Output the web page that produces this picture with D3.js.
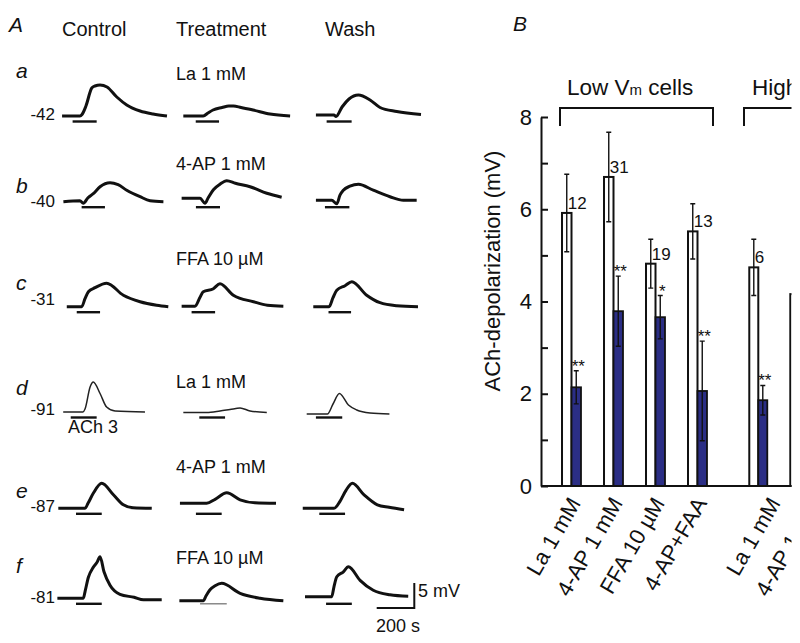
<!DOCTYPE html>
<html><head><meta charset="utf-8">
<script src="https://cdn.jsdelivr.net/npm/d3@7"></script>
<style>
html,body{margin:0;padding:0;background:#fff;}
svg{display:block;}
text{font-family:"Liberation Sans",Arial,Helvetica,sans-serif;fill:#111;}
</style></head>
<body>
<svg id="fig" width="800" height="643"></svg>
<script>
// ---------------- DATA: panel A ----------------
const columns = ["Control", "Treatment", "Wash"];
const rowLetters = ["a", "b", "c", "d", "e", "f"];
const restingVm = ["-42", "-40", "-31", "-91", "-87", "-81"];
const treatments = ["La 1 mM", "4-AP 1 mM", "FFA 10 µM", "La 1 mM", "4-AP 1 mM", "FFA 10 µM"];
// trace points: [time (s), depolarization (mV)] for Control, Treatment, Wash
const rowA = [
  [[27,0],[122,0],[133,0.3],[154,2],[185,5.6],[202,6],[229,6.2],[266,5.8],[318,3.8],[371,2.2],[442,1],[511,0.4],[585,0]],
  [[23,0],[129,0],[154,0.6],[181,1.2],[229,1.7],[265,2.0],[290,2.0],[330,1.7],[394,1.2],[484,0.4],[591,0]],
  [[74,0],[170,0],[181,-0.3],[213,1.6],[250,3.2],[300,4.0],[362,3.0],[415,1.5],[504,0.7],[633,0.1]]
];
const rowB = [
  [[34,0],[122,0.2],[140,-0.3],[165,0.8],[193,1.6],[229,3.0],[282,3.8],[325,3.4],[371,2.3],[442,1],[495,0.2],[566,0]],
  [[14,0],[112,0],[138,-1.0],[154,0],[183,1.7],[218,2.8],[254,3.5],[300,3.0],[378,2.3],[467,1.0],[546,0.2]],
  [[74,0],[158,0],[185,-0.7],[202,1],[220,2],[255,2.8],[300,3.2],[379,2],[468,0.7],[539,0],[610,0]]
];
const rowC = [
  [[52,0],[131,0],[149,1.6],[167,3],[202,3.8],[264,4.7],[353,2.3],[442,1],[530,0.3],[592,0]],
  [[14,0],[85,0],[112,1.8],[129,2.9],[183,3.5],[218,4.5],[289,2.2],[396,0.9],[470,0.2],[555,0]],
  [[60,0],[144,0],[165,1.8],[185,3.3],[229,4.2],[265,5],[344,2.3],[415,0.8],[504,0.2],[617,0]]
];
const rowD = [
  [[33,0],[138,0],[149,0.6],[176,5],[193,6],[229,3.7],[264,1],[309,0.2],[468,0]],
  [[23,0],[147,0],[218,0.3],[271,0.6],[325,0.9],[378,0.3],[467,0]],
  [[25,0],[135,0],[165,2],[199,4.1],[247,1.8],[291,0.8],[362,0.2],[465,0]]
];
const rowE = [
  [[7,0],[149,0],[165,1],[193,3],[238,5],[300,2.7],[353,0.7],[404,0.1],[504,0]],
  [[5,0],[147,0],[192,0.8],[254,2.1],[325,0.7],[404,0.1],[516,0]],
  [[4,0],[170,0],[202,1.4],[234,3.6],[268,5],[330,2.7],[401,0.7],[463,0.2],[543,-0.3]]
];
const rowF = [
  [[2,0],[140,0],[150,1.5],[167,4.2],[193,6.2],[213,7.2],[229,8.3],[250,5.3],[282,2.6],[335,0.8],[410,0.2],[460,-0.3],[557,-0.3]],
  [[2,0],[129,0],[144,1],[165,2.2],[192,3],[227,3.5],[325,1.5],[431,0.5],[555,0]],
  [[16,0],[158,0],[170,2],[185,4],[220,5],[247,6],[309,3.3],[379,1.3],[468,0.4],[565,0.1]]
];
// resting-level shift of each trace relative to the row (mV)
const traceShift = [[0,0,0.2],[0,0.7,0.3],[0,0.1,0],[0,-0.1,-0.4],[0,1.0,0],[0,-0.5,0.3]];
// ACh application [start, end] (s)
const stimTimes = [
  [[83,211],[89,213],[131,264]],
  [[131,255],[90,218],[122,252]],
  [[105,229],[67,192],[141,261]],
  [[73,211],[108,245],[74,214]],
  [[101,238],[90,227],[92,229]],
  [[101,238],[112,254],[128,265]]
];
const scaleBarTime = 200, scaleBarMv = 5;

// ---------------- DATA: panel B ----------------
const lowCategories = ["La 1 mM", "4-AP 1 mM", "FFA 10 µM", "4-AP+FAA"];
const lowControl = [5.92, 6.70, 4.82, 5.52];
const lowControlErr = [0.84, 0.97, 0.53, 0.60];
const lowTreated = [2.14, 3.79, 3.66, 2.06];
const lowTreatedErr = [0.36, 0.76, 0.47, 1.08];
const lowN = ["12", "31", "19", "13"];
const lowSig = ["**", "**", "*", "**"];
const highCategories = ["La 1 mM", "4-AP 1 mM"];
const highControl = [4.74, 4.16];
const highControlErr = [0.61, 0.50];
const highTreated = [1.86, 2.00];
const highTreatedErr = [0.32, 0.30];
const highN = ["6", ""];
const highSig = ["**", ""];
const yTicks = [0, 1, 2, 3, 4, 5, 6, 7, 8];

// ---------------- DRAW ----------------
const svg = d3.select("#fig");
svg.append("rect").attr("width", 800).attr("height", 643).attr("fill", "#fff");
const FONT = '"Liberation Sans",Arial,Helvetica,sans-serif';

// ===== Panel A =====
const A = svg.append("g");
const tScale = d3.scaleLinear().domain([0, 200]).range([0, 37.6]);   // s -> px
const vScale = d3.scaleLinear().domain([0, 5]).range([0, -25]);      // mV -> px
const colX = d3.scaleOrdinal().domain(columns).range([57, 179, 302]);
const rowY = d3.scaleOrdinal().domain(rowLetters).range([116, 201.7, 306.7, 412, 508.3, 598.3]);

A.append("text").attr("x", 9).attr("y", 32).attr("font-size", 21).attr("font-style", "italic").text("A");
const headX = [62, 176, 325];
columns.forEach((c, i) => {
  A.append("text").attr("x", headX[i]).attr("y", 36).attr("font-size", 20).text(c);
});

const rows = [rowA, rowB, rowC, rowD, rowE, rowF];
const letterY = [78, 193, 290, 395, 498, 573];
const vmY = [120, 207, 305, 415, 512, 603];
const treatY = [80, 170, 265, 388, 473, 564];

rows.forEach((row, r) => {
  const L = rowLetters[r];
  const base = rowY(L);
  A.append("text").attr("x", 16).attr("y", letterY[r]).attr("font-size", 21)
    .attr("font-style", "italic").text(L);
  A.append("text").attr("x", 55).attr("y", vmY[r]).attr("font-size", 17)
    .attr("text-anchor", "end").text(restingVm[r]);
  A.append("text").attr("x", 176).attr("y", treatY[r]).attr("font-size", 18).text(treatments[r]);

  row.forEach((pts, c) => {
    const x0 = colX(columns[c]);
    const shift = traceShift[r][c];
    const line = d3.line()
      .x(d => x0 + tScale(d[0]))
      .y(d => base + vScale(d[1] + shift))
      .curve(d3.curveMonotoneX);
    A.append("path").attr("d", line(pts)).attr("fill", "none")
      .attr("stroke", r === 3 ? "#222" : "#111")
      .attr("stroke-width", r === 3 ? 1.5 : 3)
      .attr("stroke-linejoin", "round");
    const st = stimTimes[r][c];
    const by = base + 5.5;
    const faint = (r === 5 && c === 1);
    A.append("line")
      .attr("x1", x0 + tScale(st[0])).attr("x2", x0 + tScale(st[1]))
      .attr("y1", by).attr("y2", by)
      .attr("stroke", faint ? "#777" : "#111").attr("stroke-width", faint ? 1.3 : 2.4);
  });
});
A.append("text").attr("x", 68).attr("y", 433).attr("font-size", 18).text("ACh 3");

// scale bar
const sbX = 414.3, sbY = 608;
A.append("path")
  .attr("d", `M${sbX - tScale(scaleBarTime)},${sbY}H${sbX}V${sbY + vScale(scaleBarMv)}`)
  .attr("fill", "none").attr("stroke", "#111").attr("stroke-width", 2);
A.append("text").attr("x", 418).attr("y", 597).attr("font-size", 18).text(scaleBarMv + " mV");
A.append("text").attr("x", 376).attr("y", 632).attr("font-size", 18).text(scaleBarTime + " s");

// ===== Panel B =====
svg.append("defs").append("clipPath").attr("id", "clipB")
  .append("rect").attr("x", 440).attr("y", 0).attr("width", 351.5).attr("height", 643);
const B = svg.append("g").attr("clip-path", "url(#clipB)");

B.append("text").attr("x", 513).attr("y", 31).attr("font-size", 21).attr("font-style", "italic").text("B");

const y = d3.scaleLinear().domain([0, 8]).range([486, 117]);
const axisX = 541;
const yAxis = d3.axisLeft(y).tickValues(yTicks)
  .tickFormat(d => d % 2 === 0 ? d : "")
  .tickSizeInner(-7).tickSizeOuter(0).tickPadding(9);
const gy = B.append("g").attr("transform", `translate(${axisX},0)`).call(yAxis);
gy.select(".domain").attr("stroke", "#111").attr("stroke-width", 2);
gy.selectAll(".tick line").attr("stroke", "#111").attr("stroke-width", 2);
gy.selectAll(".tick text").attr("font-size", 22).attr("font-family", FONT).attr("fill", "#111");

B.append("text").attr("transform", `translate(500,271) rotate(-90)`)
  .attr("text-anchor", "middle").attr("font-size", 22).text("ACh-depolarization (mV)");

const xLow = d3.scaleBand().domain(lowCategories).range([550.5, 718.5])
  .paddingInner(0.548).paddingOuter(0.274);
const xHigh = d3.scaleBand().domain(highCategories).range([737.8, 819.8])
  .paddingInner(0.561).paddingOuter(0.28);

const BLUE = "#2b2e85";
function drawGroup(xs, cats, ctrl, ctrlErr, trt, trtErr, ns, sigs, labelOff) {
  const bw = xs.bandwidth() / 2;
  cats.forEach((cat, i) => {
    const x = xs(cat);
    B.append("rect").attr("x", x).attr("y", y(ctrl[i])).attr("width", bw)
      .attr("height", y(0) - y(ctrl[i])).attr("fill", "#fff").attr("stroke", "#111").attr("stroke-width", 2);
    B.append("rect").attr("x", x + bw).attr("y", y(trt[i])).attr("width", bw)
      .attr("height", y(0) - y(trt[i])).attr("fill", BLUE).attr("stroke", "#111").attr("stroke-width", 1.8);
    [[x + bw / 2, ctrl[i], ctrlErr[i]], [x + bw * 1.5, trt[i], trtErr[i]]].forEach(([cx, v, e]) => {
      B.append("path")
        .attr("d", `M${cx},${y(v - e)}V${y(v + e)}M${cx - 2.5},${y(v + e)}H${cx + 2.5}M${cx - 2.5},${y(v - e)}H${cx + 2.5}`)
        .attr("stroke", "#111").attr("stroke-width", 1.4).attr("fill", "none");
    });
    if (ns[i]) B.append("text").attr("x", x + bw / 2 + 1).attr("y", y(ctrl[i]) - 4)
      .attr("font-size", 17).text(ns[i]);
    if (sigs[i]) B.append("text").attr("x", x + bw * 1.5 + 2).attr("y", y(trt[i] + trtErr[i]) + 1)
      .attr("font-size", 17).attr("text-anchor", "middle").text(sigs[i]);
    const ax = x + bw + labelOff, ay = 503;
    B.append("text").attr("transform", `translate(${ax},${ay}) rotate(-60)`)
      .attr("text-anchor", "end").attr("font-size", 22).text(cat);
  });
}
drawGroup(xLow, lowCategories, lowControl, lowControlErr, lowTreated, lowTreatedErr, lowN, lowSig, 10);
drawGroup(xHigh, highCategories, highControl, highControlErr, highTreated, highTreatedErr, highN, highSig, 23);

// x baseline
B.append("line").attr("x1", axisX).attr("x2", 800).attr("y1", y(0)).attr("y2", y(0))
  .attr("stroke", "#111").attr("stroke-width", 2);

// group brackets
const brY = 108, brDrop = 18;
B.append("path").attr("d", `M560,${brY + brDrop}V${brY}H713V${brY + brDrop}`)
  .attr("fill", "none").attr("stroke", "#111").attr("stroke-width", 2);
B.append("path").attr("d", `M744,${brY + brDrop}V${brY}H830`)
  .attr("fill", "none").attr("stroke", "#111").attr("stroke-width", 2);
const t1 = B.append("text").attr("x", 567).attr("y", 95).attr("font-size", 22.5);
t1.append("tspan").text("Low V");
t1.append("tspan").attr("font-size", 15).text("m");
t1.append("tspan").text(" cells");
const t2 = B.append("text").attr("x", 752).attr("y", 95).attr("font-size", 22.5);
t2.append("tspan").text("High V");
t2.append("tspan").attr("font-size", 15).text("m");
t2.append("tspan").text(" cells");
</script>
</body></html>
